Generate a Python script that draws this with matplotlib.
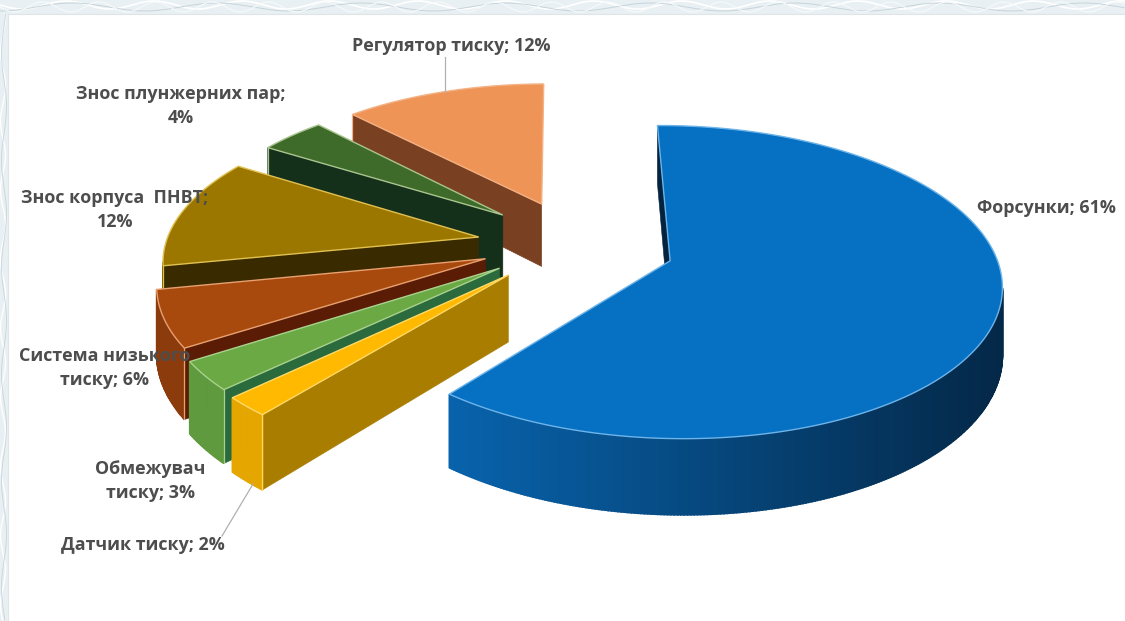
import matplotlib

matplotlib.use("Agg")
import matplotlib.pyplot as plt
import numpy as np
from matplotlib.colors import to_rgb
from matplotlib.patches import Polygon, Rectangle

names = [
    "Форсунки",
    "Датчик тиску",
    "Обмежувач\nтиску",
    "Система низького\nтиску",
    "Знос корпуса  ПНВТ",
    "Знос плунжерних пар",
    "Регулятор тиску",
]
shares = [61, 2, 3, 6, 12, 4, 12]

top_colors = ["#0670c2", "#ffb900", "#6aa943", "#a84a0e", "#9c7700", "#3f6b2a", "#ee9457"]
edge_colors = ["#6db4ea", "#ffd966", "#a9d18e", "#e8a070", "#e0c050", "#a9c48e", "#f4b183"]
rim_left = ["#0863ac", "#e6a600", "#5f9a3f", "#8c3b0c", "#7d5f00", "#2d4f1e", "#8a4a24"]
rim_right = ["#042848", "#e6a600", "#5f9a3f", "#8c3b0c", "#7d5f00", "#2d4f1e", "#8a4a24"]
face_colors = ["#04233f", "#a87d00", "#2a6a3c", "#5a1c05", "#3a2a00", "#14301a", "#7a4022"]

explode = [0.27, 0.31, 0.31, 0.32, 0.33, 0.33, 0.33]
radius = [0.98, 0.985, 0.985, 0.965, 0.95, 0.94, 0.96]
# small per-slice shift on screen, in pixels
nudge = [(0, 1), (-5, -7), (-3, -8), (0, -6), (0, 0), (0, 0), (-4, 3)]

# label text centres, in pixels
label_xy = [
    (1046, 208), (143, 545), (150, 481), (105, 368),
    (115, 210), (181, 106), (451, 46),
]

CX, CY = 585, 246
RX, RY = 330, 153
PERSP = 0.137
HEIGHT = 65
START = -0.5


def project(x, y, shift=(0, 0)):
    s = 1 / (1 + PERSP * y)
    return CX + shift[0] + RX * x * s, CY + shift[1] - RY * y * s, HEIGHT * s


def mix(a, b, t):
    a, b = np.array(to_rgb(a)), np.array(to_rgb(b))
    return tuple(a + (b - a) * t)


def draw_wedge(ax, i, a0, a1):
    mid = np.radians((a0 + a1) / 2)
    ox, oy = explode[i] * np.sin(mid), explode[i] * np.cos(mid)
    angles = np.radians(np.linspace(a0, a1, max(int(a1 - a0) * 2, 8)))
    rim = [project(ox + radius[i] * np.sin(a), oy + radius[i] * np.cos(a), nudge[i]) for a in angles]
    apex = project(ox, oy, nudge[i])

    def wall(p, q, **kw):
        if q[0] - p[0] >= 0:
            return
        pts = [p[:2], q[:2], (q[0], q[1] + q[2]), (p[0], p[1] + p[2])]
        ax.add_patch(Polygon(pts, closed=True, **kw))

    wall(apex, rim[0], fc=face_colors[i], ec=face_colors[i], lw=0.4)
    for p, q in zip(rim[:-1], rim[1:]):
        t = np.clip(((p[0] + q[0]) / 2 - 450) / 550, 0, 1)
        c = mix(rim_left[i], rim_right[i], t)
        wall(p, q, fc=c, ec=c, lw=1.2)

    # seam between the outer wall and the cut face
    if i > 0:
        ax.plot([rim[0][0]] * 2, [rim[0][1], rim[0][1] + rim[0][2]],
                color=edge_colors[i], lw=0.9, zorder=1)

    outline = [apex[:2]] + [p[:2] for p in rim]
    ax.add_patch(Polygon(outline, closed=True, fc=top_colors[i], ec=edge_colors[i], lw=1.0))


def draw_border(ax):
    ax.add_patch(Rectangle((0, 0), 1125, 621, fc="#e9f0f3", ec="none", zorder=0))
    xs = np.arange(0, 1125, 2.0)
    ax.plot(xs, 5 + 4 * np.sin(xs / 14), color="#ffffff", lw=1.2, zorder=0.1)
    ax.plot(xs, 7 + 4 * np.cos(xs / 23), color="#c6d4da", lw=0.7, zorder=0.1)
    ax.plot(xs, 7 + 5 * np.sin(xs / 9), color="#f7fafb", lw=0.8, zorder=0.1)
    ys = np.arange(14, 621, 2.0)
    ax.plot(3 + 2.5 * np.sin(ys / 11), ys, color="#ffffff", lw=1.0, zorder=0.1)
    ax.plot(4 + 2.5 * np.cos(ys / 17), ys, color="#c6d4da", lw=0.6, zorder=0.1)
    ax.add_patch(Rectangle((8, 14), 1125, 621, fc="#ffffff", ec="#dfe4e6", lw=0.8, zorder=0.2))


fig = plt.figure(figsize=(11.25, 6.21), dpi=100)
ax = fig.add_axes([0, 0, 1, 1])
ax.set_xlim(0, 1125)
ax.set_ylim(621, 0)
ax.axis("off")

draw_border(ax)

edges = START + np.cumsum([0] + shares) * 3.6
# back slices first, the blue one goes on last
for i in [6, 5, 4, 3, 2, 1, 0]:
    draw_wedge(ax, i, edges[i], edges[i + 1])

# leader lines
ax.plot([445, 445], [57, 92], color="#b0b0b0", lw=0.9, zorder=3)
ax.plot([253, 222], [484, 536], color="#b0b0b0", lw=0.9, zorder=3)

for name, share, (x, y) in zip(names, shares, label_xy):
    label = f"{name}; {share}%"
    if name.startswith("Знос"):
        label = f"{name};\n{share}%"
    ax.text(x, y, label, ha="center", va="center", fontsize=12.9, fontweight="bold",
            color="#4d4d4d", family="Open Sans", linespacing=1.45, zorder=20)

fig.savefig("out.png", dpi=100)
plt.close(fig)
